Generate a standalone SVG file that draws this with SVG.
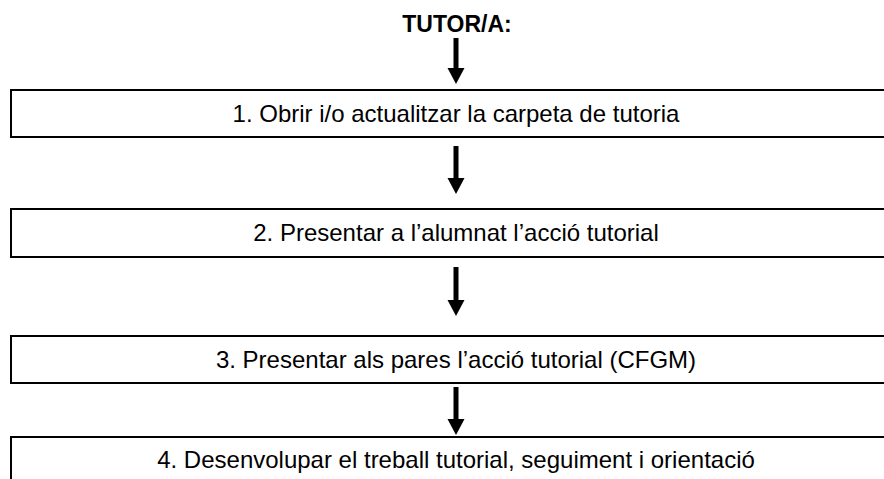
<svg xmlns="http://www.w3.org/2000/svg" width="884" height="479" viewBox="0 0 884 479">
<style>
.box{fill:#fff;stroke:#000;stroke-width:2}
.t{font-family:"Liberation Sans",Arial,sans-serif;font-size:24px;fill:#000;text-anchor:middle}
.b{font-weight:bold;font-size:23px}
.arr{fill:#000;stroke:none}
</style>
<rect width="884" height="479" fill="#fff"/>
<g id="title"><text class="t b" x="457" y="32">TUTOR/A:</text></g>
<g id="node1"><rect class="box" x="11" y="90" width="900" height="47"/><text class="t" x="456" y="122">1. Obrir i/o actualitzar la carpeta de tutoria</text></g>
<g id="node2"><rect class="box" x="11" y="209" width="900" height="48"/><text class="t" x="456" y="241">2. Presentar a l’alumnat l’acció tutorial</text></g>
<g id="node3"><rect class="box" x="11" y="336" width="900" height="47"/><text class="t" x="456" y="368">3. Presentar als pares l’acció tutorial (CFGM)</text></g>
<g id="node4"><rect class="box" x="11" y="437" width="900" height="60"/><text class="t" x="456" y="468">4. Desenvolupar el treball tutorial, seguiment i orientació</text></g>
<g id="connectors">
<path class="arr" d="M453.5 38 H458.5 V68 H464.5 L456 84 L447.5 68 H453.5 Z"/>
<path class="arr" d="M453.5 146 H458.5 V178 H464.5 L456 194 L447.5 178 H453.5 Z"/>
<path class="arr" d="M453.5 267 H458.5 V300 H464.5 L456 316 L447.5 300 H453.5 Z"/>
<path class="arr" d="M453.5 387 H458.5 V419 H464.5 L456 435 L447.5 419 H453.5 Z"/>
</g>
</svg>
